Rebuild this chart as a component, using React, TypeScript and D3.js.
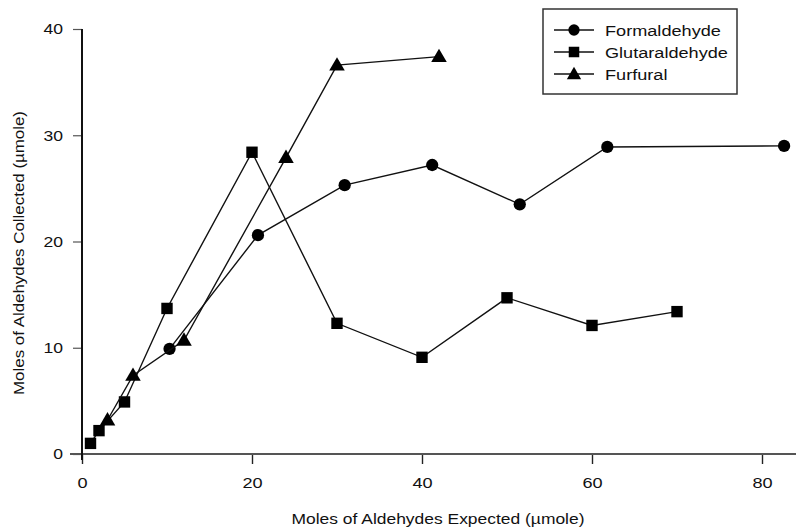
import { useEffect, useRef } from "react";
import * as d3 from "d3";

const W = 796;
const H = 527;
const MARGIN = { top: 29, right: 34, bottom: 73, left: 82 };

// data
const formaldehydeX = [10.3, 20.7, 30.9, 41.2, 51.5, 61.8, 82.6];
const formaldehydeY = [9.9, 20.6, 25.3, 27.2, 23.5, 28.9, 29.0];
const glutaraldehydeX = [1, 2, 5, 10, 20, 30, 40, 50, 60, 70];
const glutaraldehydeY = [1.0, 2.2, 4.9, 13.7, 28.4, 12.3, 9.1, 14.7, 12.1, 13.4];
const furfuralX = [3, 6, 12, 24, 30, 42];
const furfuralY = [3.2, 7.4, 10.7, 27.9, 36.6, 37.4];

const xTicks = [0, 20, 40, 60, 80];
const yTicks = [0, 10, 20, 30, 40];
const seriesNames = ["Formaldehyde", "Glutaraldehyde", "Furfural"];
const symbols = [d3.symbolCircle, d3.symbolSquare, d3.symbolTriangle];

const FONT = "'Liberation Sans', Arial, Helvetica, sans-serif";
const STRETCH = 1.17;

export default function App() {
  const ref = useRef<SVGSVGElement>(null);

  useEffect(() => {
    const svg = d3.select(ref.current);
    svg.selectAll("*").remove();

    const boundsW = W - MARGIN.left - MARGIN.right;
    const boundsH = H - MARGIN.top - MARGIN.bottom;

    const x = d3.scaleLinear().domain([0, 80]).range([0, boundsW]);
    const y = d3.scaleLinear().domain([0, 40]).range([boundsH, 0]);

    const g = svg
      .append("g")
      .attr("transform", `translate(${MARGIN.left},${MARGIN.top})`);

    // x axis
    const xAxis = g
      .append("g")
      .attr("transform", `translate(0,${boundsH})`)
      .call(
        d3.axisBottom(x).tickValues(xTicks).tickSize(10).tickSizeOuter(0).tickPadding(13)
      );
    xAxis.select(".domain").remove();
    xAxis.selectAll("line").attr("stroke", "#222").attr("stroke-width", 1.4);
    xAxis
      .selectAll("text")
      .attr("fill", "#111")
      .style("font-family", FONT)
      .style("font-size", "15.5px")
      .attr("transform", `scale(${STRETCH},1)`);

    // y axis
    const yAxis = g
      .append("g")
      .call(
        d3.axisLeft(y).tickValues(yTicks).tickSize(9).tickSizeOuter(0).tickPadding(10)
      );
    yAxis.select(".domain").remove();
    yAxis.selectAll("line").attr("stroke", "#555").attr("stroke-width", 1.2);
    yAxis
      .selectAll("text")
      .attr("x", -19 / STRETCH)
      .attr("fill", "#111")
      .style("font-family", FONT)
      .style("font-size", "15px")
      .attr("transform", `scale(${STRETCH},1)`);

    // axis lines
    g.append("line")
      .attr("x1", -12)
      .attr("x2", W - MARGIN.left)
      .attr("y1", boundsH)
      .attr("y2", boundsH)
      .attr("stroke", "#555")
      .attr("stroke-width", 2);
    g.append("line")
      .attr("x1", 0)
      .attr("x2", 0)
      .attr("y1", 0)
      .attr("y2", boundsH + 6)
      .attr("stroke", "#111")
      .attr("stroke-width", 2);

    // axis titles
    g.append("text")
      .attr("x", boundsW / 2 + 16)
      .attr("y", boundsH + 70)
      .attr("text-anchor", "middle")
      .attr("textLength", 293)
      .attr("lengthAdjust", "spacingAndGlyphs")
      .style("font-family", FONT)
      .style("font-size", "15px")
      .attr("fill", "#111")
      .text("Moles of Aldehydes Expected (\u00b5mole)");

    g.append("text")
      .attr("transform", `translate(${-58},${253 - MARGIN.top}) rotate(-90)`)
      .attr("text-anchor", "middle")
      .attr("textLength", 284)
      .attr("lengthAdjust", "spacingAndGlyphs")
      .style("font-family", FONT)
      .style("font-size", "15px")
      .attr("fill", "#111")
      .text("Moles of Aldehydes Collected (\u00b5mole)");

    // series
    const series = [
      { xs: formaldehydeX, ys: formaldehydeY },
      { xs: glutaraldehydeX, ys: glutaraldehydeY },
      { xs: furfuralX, ys: furfuralY },
    ];
    const line = d3
      .line<[number, number]>()
      .x((d) => x(d[0]))
      .y((d) => y(d[1]));

    const sizes = [118, 130, 105];

    series.forEach((s, i) => {
      const pts: [number, number][] = s.xs.map((v, j) => [v, s.ys[j]]);
      g.append("path")
        .datum(pts)
        .attr("d", line)
        .attr("fill", "none")
        .attr("stroke", "#111")
        .attr("stroke-width", 1.4);
      g.append("g")
        .selectAll("path")
        .data(pts)
        .join("path")
        .attr(
          "transform",
          (d) => `translate(${x(d[0])},${y(d[1]) + (i === 2 ? 1 : 0)})`
        )
        .attr("d", d3.symbol().type(symbols[i]).size(sizes[i]))
        .attr("fill", "#000");
    });

    // legend
    const leg = svg.append("g").attr("transform", "translate(543,9)");
    leg
      .append("rect")
      .attr("width", 194)
      .attr("height", 85)
      .attr("fill", "#fff")
      .attr("stroke", "#333")
      .attr("stroke-width", 1.5);
    seriesNames.forEach((name, i) => {
      const cy = 21 + i * 22;
      leg
        .append("line")
        .attr("x1", 11)
        .attr("x2", 51)
        .attr("y1", cy)
        .attr("y2", cy)
        .attr("stroke", "#111")
        .attr("stroke-width", 1.4);
      leg
        .append("path")
        .attr("transform", `translate(31,${cy + (i === 2 ? 1 : 0)})`)
        .attr("d", d3.symbol().type(symbols[i]).size(sizes[i] * 0.85))
        .attr("fill", "#000");
      leg
        .append("text")
        .attr("x", 62 / STRETCH)
        .attr("y", cy + 6)
        .attr("transform", `scale(${STRETCH},1)`)
        .style("font-family", FONT)
        .style("font-size", "15.5px")
        .attr("fill", "#111")
        .text(name);
    });
  }, []);

  return (
    <svg
      ref={ref}
      width={W}
      height={H}
      style={{ position: "absolute", left: 0, top: 0, background: "#fff" }}
    />
  );
}
